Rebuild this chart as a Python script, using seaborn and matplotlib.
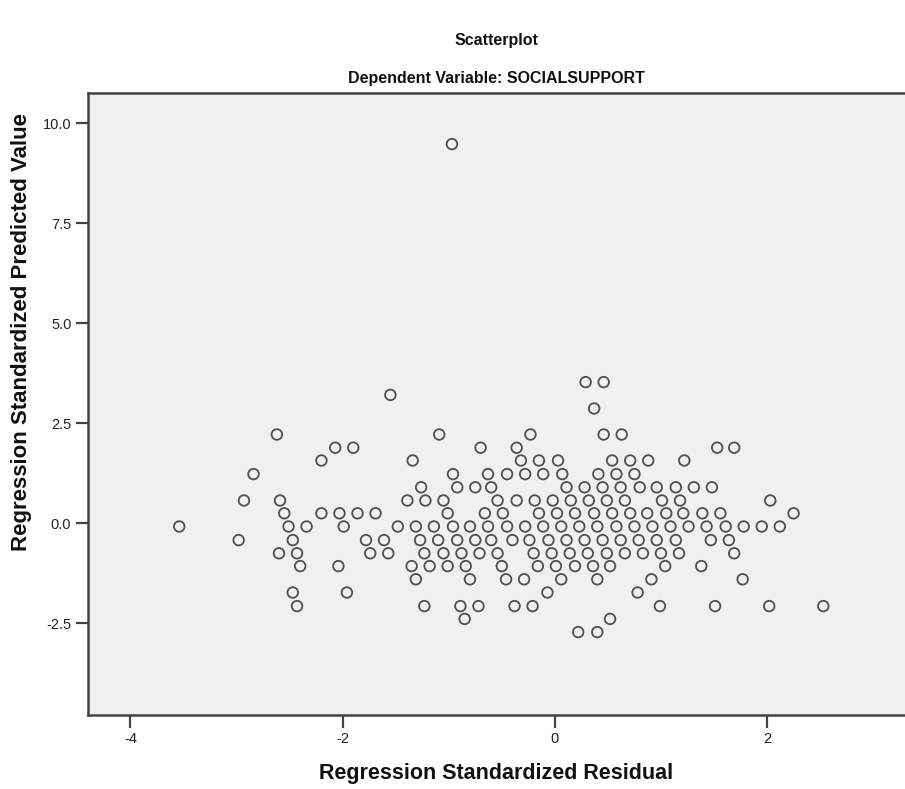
import numpy as np
import pandas as pd
import matplotlib
matplotlib.use("Agg")
import matplotlib.pyplot as plt
import seaborn as sns

# Residuals (x) for each predicted-value level (y)
lvl_9_48 = [-0.97]
lvl_3_53 = [0.29, 0.46]
lvl_3_21 = [-1.55]
lvl_2_87 = [0.37]
lvl_2_22 = [-2.62, -1.09, -0.23, 0.46, 0.63]
lvl_1_89 = [-2.07, -1.90, -0.70, -0.36, 1.53, 1.69]
lvl_1_57 = [-2.20, -1.34, -0.32, -0.15, 0.03, 0.54, 0.71, 0.88, 1.22]
lvl_1_23 = [-2.84, -0.96, -0.63, -0.45, -0.28, -0.11, 0.07, 0.41, 0.58, 0.75]
lvl_0_90 = [-1.26, -0.92, -0.75, -0.60, 0.11, 0.28, 0.45, 0.62, 0.80, 0.96,
            1.14, 1.31, 1.48]
lvl_0_57 = [-2.93, -2.59, -1.39, -1.22, -1.05, -0.54, -0.36, -0.19, -0.02, 0.15,
            0.32, 0.49, 0.66, 1.01, 1.18, 2.03]
lvl_0_25 = [-2.55, -2.20, -2.03, -1.86, -1.69, -1.01, -0.66, -0.49, -0.15, 0.02,
            0.19, 0.37, 0.54, 0.71, 0.87, 1.05, 1.21, 1.39, 1.56, 2.25]
lvl_m0_08 = [-3.54, -2.51, -2.34, -1.99, -1.48, -1.31, -1.14, -0.96, -0.80, -0.63,
             -0.45, -0.28, -0.11, 0.06, 0.23, 0.40, 0.58, 0.75, 0.92, 1.09,
             1.26, 1.43, 1.61, 1.78, 1.95, 2.12]
lvl_m0_42 = [-2.98, -2.47, -1.78, -1.61, -1.27, -1.10, -0.92, -0.75, -0.60, -0.40,
             -0.24, -0.06, 0.11, 0.28, 0.45, 0.62, 0.79, 0.96, 1.14, 1.47, 1.64]
lvl_m0_75 = [-2.60, -2.43, -1.74, -1.57, -1.23, -1.05, -0.88, -0.71, -0.54, -0.20,
             -0.03, 0.14, 0.31, 0.49, 0.66, 0.83, 1.00, 1.17, 1.69]
lvl_m1_07 = [-2.40, -2.04, -1.35, -1.18, -1.01, -0.84, -0.50, -0.16, 0.01, 0.19,
             0.36, 0.52, 1.04, 1.38]
lvl_m1_40 = [-1.31, -0.80, -0.46, -0.29, 0.06, 0.40, 0.91, 1.77]
lvl_m1_73 = [-2.47, -1.96, -0.07, 0.78]
lvl_m2_07 = [-2.43, -1.23, -0.89, -0.72, -0.38, -0.21, 0.99, 1.51, 2.02, 2.53]
lvl_m2_39 = [-0.85, 0.52]
lvl_m2_72 = [0.22, 0.40]

levels = [9.48, 3.53, 3.21, 2.87, 2.22, 1.89, 1.57, 1.23, 0.90, 0.57, 0.25,
          -0.08, -0.42, -0.75, -1.07, -1.40, -1.73, -2.07, -2.39, -2.72]
rows = [lvl_9_48, lvl_3_53, lvl_3_21, lvl_2_87, lvl_2_22, lvl_1_89, lvl_1_57,
        lvl_1_23, lvl_0_90, lvl_0_57, lvl_0_25, lvl_m0_08, lvl_m0_42, lvl_m0_75,
        lvl_m1_07, lvl_m1_40, lvl_m1_73, lvl_m2_07, lvl_m2_39, lvl_m2_72]

xticks = [-4, -2, 0, 2]
yticks = [10.0, 7.5, 5.0, 2.5, 0.0, -2.5]

resid, pred = [], []
for lv, r in zip(levels, rows):
    resid.extend(r)
    pred.extend([lv] * len(r))
df = pd.DataFrame({"Residual": resid, "Predicted": pred})

sns.set_style("white")
plt.rcParams["font.family"] = ["Liberation Sans", "DejaVu Sans"]

W, H = 905, 789
fig = plt.figure(figsize=(W / 100, H / 100), dpi=100)
ax = fig.add_axes([88 / W, (H - 715.3) / H, (W - 88) / W, (715.3 - 93.3) / H])
ax.set_facecolor("#f0f0f0")

sns.scatterplot(data=df, x="Residual", y="Predicted", ax=ax, marker="o",
                s=58, facecolors="none", edgecolor="#333333", linewidth=1.3,
                alpha=0.85, legend=False)

ax.set_xlim(-4.40, 3.30)
ax.set_ylim(-4.80, 10.75)
ax.set_xticks(xticks)
ax.set_xticklabels([f"{t:d}" for t in xticks])
ax.set_yticks(yticks)
ax.set_yticklabels([f"{t:.1f}" for t in yticks])
ax.tick_params(axis="both", which="major", bottom=True, left=True,
               top=False, right=False, direction="out", length=9, width=1.6,
               color="#444444", labelsize=10.5, labelcolor="#222222", pad=3)

for side in ["left", "bottom", "top"]:
    ax.spines[side].set_visible(True)
    ax.spines[side].set_color("#444444")
    ax.spines[side].set_linewidth(1.8)
ax.spines["right"].set_visible(False)

ax.set_xlabel("")
ax.set_ylabel("")
fig.text(496.5 / W, 1 - 774 / H, "Regression Standardized Residual",
         ha="center", va="center", fontsize=15.5, fontweight="bold",
         color="#111111")
fig.text(22 / W, 1 - 332 / H, "Regression Standardized Predicted Value",
         ha="center", va="center", rotation=90, fontsize=16,
         fontweight="bold", color="#111111")
fig.text(496.5 / W, 1 - 40 / H, "Scatterplot", ha="center", va="center",
         fontsize=11.5, fontweight="bold", color="#111111")
fig.text(496.5 / W, 1 - 78 / H, "Dependent Variable: SOCIALSUPPORT",
         ha="center", va="center", fontsize=11.5, fontweight="bold",
         color="#111111")

fig.savefig("out.png", dpi=100, facecolor="white")
